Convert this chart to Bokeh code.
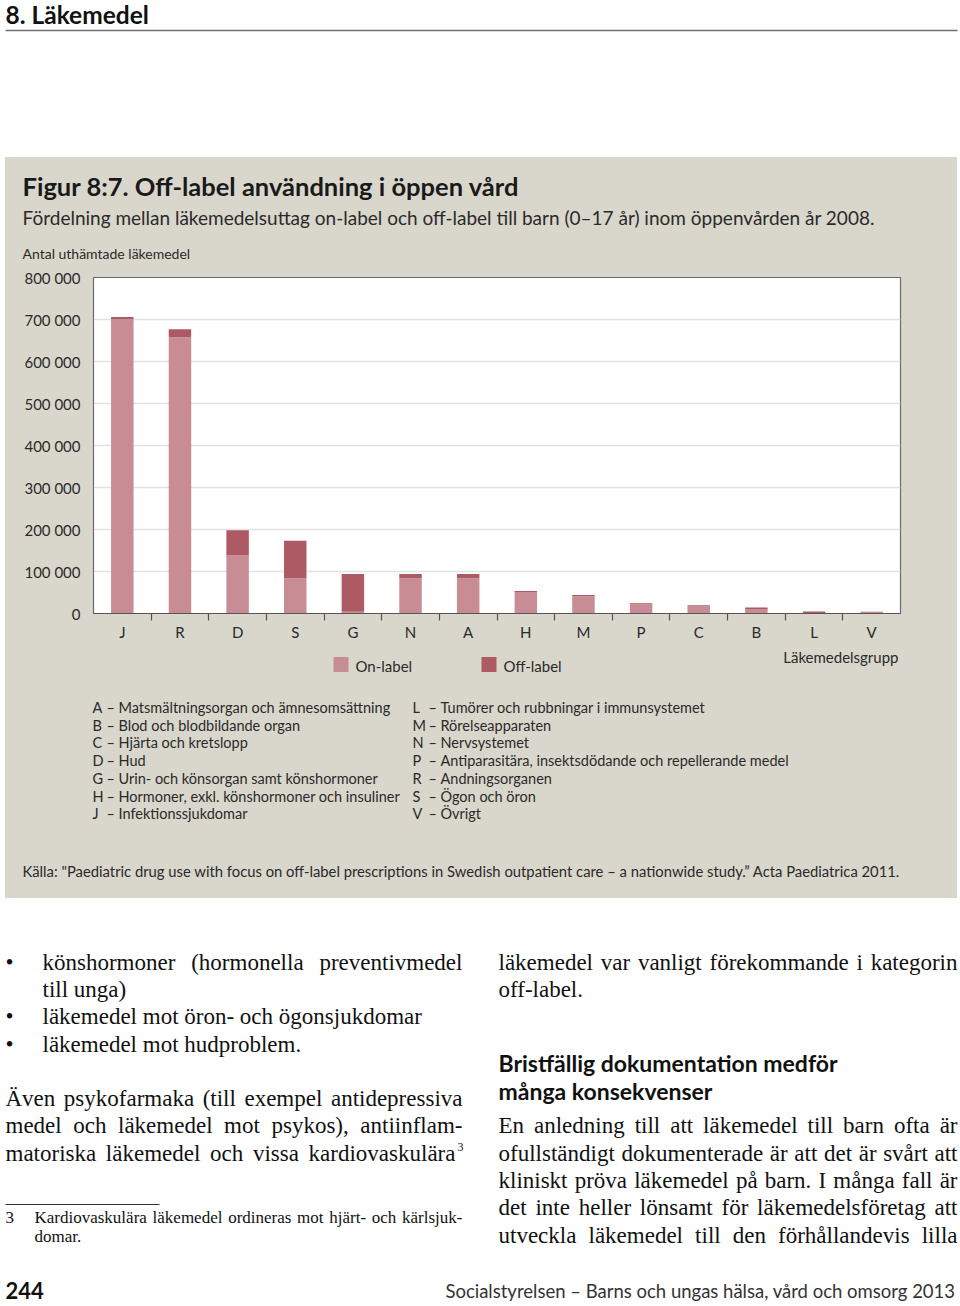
from bokeh.plotting import figure
from bokeh.models import Range1d, FixedTicker, ColumnDataSource, Spacer
from bokeh.layouts import column, row
from bokeh.embed import file_html
from bokeh.resources import INLINE
from bokeh.core.properties import value

# ---------------- data ----------------
categories = ["J", "R", "D", "S", "G", "N", "A", "H", "M", "P", "C", "B", "L", "V"]
on_label = [701000, 658000, 138000, 84000, 4000, 84000, 84000, 51000, 41000, 22000, 17000, 11000, 1000, 3500]
off_label = [5000, 19000, 60000, 89000, 90000, 10000, 10000, 2500, 3000, 2500, 2500, 3000, 4000, 500]
series_names = ["On-label", "Off-label"]
y_ticks = [0, 100000, 200000, 300000, 400000, 500000, 600000, 700000, 800000]
y_tick_labels = ["0", "100 000", "200 000", "300 000", "400 000", "500 000", "600 000", "700 000", "800 000"]

desc_left_codes = ["A", "B", "C", "D", "G", "H", "J"]
desc_left_texts = ["Matsmältningsorgan och ämnesomsättning", "Blod och blodbildande organ",
                   "Hjärta och kretslopp", "Hud", "Urin- och könsorgan samt könshormoner",
                   "Hormoner, exkl. könshormoner och insuliner", "Infektionssjukdomar"]
desc_right_codes = ["L", "M", "N", "P", "R", "S", "V"]
desc_right_texts = ["Tumörer och rubbningar i immunsystemet", "Rörelseapparaten", "Nervsystemet",
                    "Antiparasitära, insektsdödande och repellerande medel", "Andningsorganen",
                    "Ögon och öron", "Övrigt"]

chapter_title = "8. Läkemedel"
fig_title = "Figur 8:7. Off-label användning i öppen vård"
fig_subtitle = "Fördelning mellan läkemedelsuttag on-label och off-label till barn (0–17 år) inom öppenvården år 2008."
y_axis_title = "Antal uthämtade läkemedel"
x_axis_title = "Läkemedelsgrupp"
source_text = "Källa: \"Paediatric drug use with focus on off-label prescriptions in Swedish outpatient care – a nationwide study.” Acta Paediatrica 2011."

# ---------------- style ----------------
SANS = "Lato"
SERIF = "Liberation Serif"
GRAY = "#d9d7cc"
COLORS = ["#c88d94", "#ad5a64"]
TXT = "#2a2a2a"
PAGE_W = 960
GX0, GX1 = 5, 957          # gray panel horizontal extent (page px)
GW = GX1 - GX0


def text_fig(x0, x1, y0, y1, bg):
    f = figure(width=x1 - x0, height=y1 - y0, x_range=Range1d(x0, x1), y_range=Range1d(y1, y0),
               output_backend="svg", toolbar_location=None, min_border=0, title=None,
               background_fill_color=bg, border_fill_color=bg, outline_line_color=None,
               frame_align=False, styles={"background-color": bg})
    f.axis.visible = False
    f.grid.visible = False
    return f


def put(f, x, y, text, size, font=SANS, bold=False, align="left", color=TXT):
    if isinstance(text, str):
        x, y, text = [x], [y], [text]
    f.text(x=x, y=y, text=text, text_font=value(font), text_font_size=size,
           text_font_style="bold" if bold else "normal", text_align=align,
           text_baseline="middle", text_color=color)


# ---------------- header (page y 0-157) ----------------
head = text_fig(0, PAGE_W, 0, 157, "white")
put(head, 5, 14, chapter_title, "24.5px", bold=True, color="#111111")
head.segment(x0=[5], y0=[30], x1=[957], y1=[30], line_color="#6f6f6f", line_width=1.5)

# ---------------- gray panel top (157-267) ----------------
top = text_fig(GX0, GX1, 157, 267, GRAY)
put(top, 22, 185, fig_title, "25.5px", bold=True, color="#1a1a1a")
put(top, 22, 217, fig_subtitle, "19px")
put(top, 22, 253, y_axis_title, "14px")

# ---------------- chart (267-643), frame 277-614 / 93-900 ----------------
xs = [i + 0.5 for i in range(len(categories))]
src = ColumnDataSource(dict(x=xs, on=on_label, off=off_label))

p = figure(width=GW, height=643 - 267, x_range=Range1d(0, len(categories)), y_range=Range1d(0, 800000),
           output_backend="svg", toolbar_location=None, title=None, frame_align=False,
           min_border_left=93 - GX0, min_border_right=GX1 - 900, min_border_top=277 - 267,
           min_border_bottom=643 - 614,
           border_fill_color=GRAY, background_fill_color="white",
           outline_line_color="#6a6a6a", outline_line_width=1.2,
           styles={"background-color": GRAY})

rs = p.vbar_stack(["on", "off"], x="x", width=0.39, source=src, color=COLORS, line_color=None)

ytick = FixedTicker(ticks=y_ticks)
p.yaxis.ticker = ytick
p.ygrid.ticker = ytick
p.yaxis.major_label_overrides = {v: s for v, s in zip(y_ticks, y_tick_labels)}
p.yaxis.major_tick_line_color = None
p.yaxis.minor_tick_line_color = None
p.yaxis.major_tick_out = 0
p.yaxis.major_tick_in = 0
p.yaxis.major_label_standoff = 13
p.yaxis.axis_line_color = "#6a6a6a"
p.yaxis.major_label_text_font = SANS
p.yaxis.major_label_text_font_size = "15px"
p.yaxis.major_label_text_color = TXT

xtick = FixedTicker(ticks=xs, minor_ticks=list(range(1, len(categories))))
p.xaxis.ticker = xtick
p.xaxis.major_label_overrides = {x: c for x, c in zip(xs, categories)}
p.xaxis.major_tick_line_color = None
p.xaxis.major_tick_out = 0
p.xaxis.major_tick_in = 0
p.xaxis.minor_tick_out = 7
p.xaxis.minor_tick_in = 0
p.xaxis.minor_tick_line_color = "#555555"
p.xaxis.minor_tick_line_width = 1.2
p.xaxis.axis_line_color = "#555555"
p.xaxis.axis_line_width = 1.2
p.xaxis.major_label_standoff = 2
p.xaxis.major_label_text_font = SANS
p.xaxis.major_label_text_font_size = "15px"
p.xaxis.major_label_text_color = TXT

p.xgrid.visible = False
p.ygrid.grid_line_color = "#e2e2e2"
p.ygrid.grid_line_width = 1.5

# ---------------- gray panel bottom (643-898) ----------------
bot = text_fig(GX0, GX1, 643, 898, GRAY)
sw_x = [340.5, 488.5]
bot.rect(x=sw_x, y=[664, 664], width=15, height=15, width_units="screen", height_units="screen",
         fill_color=COLORS, line_color=None)
put(bot, [x + 14.5 for x in sw_x], [665, 665], series_names, "15px")
put(bot, 898, 656, x_axis_title, "15px", align="right")
rows = [707 + i * 17.7 for i in range(len(desc_left_codes))]
put(bot, [92] * len(rows), rows, desc_left_codes, "14.5px")
put(bot, [106] * len(rows), rows, ["–"] * len(rows), "14.5px")
put(bot, [118] * len(rows), rows, desc_left_texts, "14.5px")
rows = [707 + i * 17.7 for i in range(len(desc_right_codes))]
put(bot, [412] * len(rows), rows, desc_right_codes, "14.5px")
put(bot, [428] * len(rows), rows, ["–"] * len(rows), "14.5px")
put(bot, [440] * len(rows), rows, desc_right_texts, "14.5px")
put(bot, 22, 870, source_text, "14.8px")

# ---------------- body text (898-1306) ----------------
TW = {' ': 250, '!': 333, '"': 408, '(': 333, ')': 333, ',': 250, '-': 333, '.': 250, ':': 278, ';': 278,
      'A': 722, 'B': 667, 'C': 667, 'D': 722, 'E': 611, 'F': 556, 'G': 722, 'H': 722, 'I': 333, 'J': 389,
      'K': 722, 'L': 611, 'M': 889, 'N': 722, 'O': 722, 'P': 556, 'Q': 722, 'R': 667, 'S': 556, 'T': 611,
      'U': 722, 'V': 722, 'W': 944, 'X': 722, 'Y': 722, 'Z': 611, 'Ä': 722, 'Å': 722, 'Ö': 722,
      'a': 444, 'b': 500, 'c': 444, 'd': 500, 'e': 444, 'f': 333, 'g': 500, 'h': 500, 'i': 278, 'j': 278,
      'k': 500, 'l': 278, 'm': 778, 'n': 500, 'o': 500, 'p': 500, 'q': 500, 'r': 333, 's': 389, 't': 278,
      'u': 500, 'v': 500, 'w': 722, 'x': 500, 'y': 500, 'z': 444, 'ä': 444, 'å': 444, 'ö': 500}


def tw(s, size):
    return sum(TW.get(ch, 500) for ch in s) * size / 1000.0


body_lines = [
    (42, 462, 962, "könshormoner (hormonella preventivmedel"),
    (42, None, 989, "till unga)"),
    (42, None, 1016, "läkemedel mot öron- och ögonsjukdomar"),
    (42, None, 1044, "läkemedel mot hudproblem."),
    (5, 462, 1098, "Även psykofarmaka (till exempel antidepressiva"),
    (5, 462, 1125, "medel och läkemedel mot psykos), antiinflam-"),
    (5, 455, 1153, "matoriska läkemedel och vissa kardiovaskulära"),
    (498, 957, 962, "läkemedel var vanligt förekommande i kategorin"),
    (498, None, 989, "off-label."),
    (498, 957, 1125, "En anledning till att läkemedel till barn ofta är"),
    (498, 957, 1153, "ofullständigt dokumenterade är att det är svårt att"),
    (498, 957, 1180, "kliniskt pröva läkemedel på barn. I många fall är"),
    (498, 957, 1207, "det inte heller lönsamt för läkemedelsföretag att"),
    (498, 957, 1235, "utveckla läkemedel till den förhållandevis lilla"),
]
foot_lines = [
    (34, 462, 1217, "Kardiovaskulära läkemedel ordineras mot hjärt- och kärlsjuk-"),
    (34, None, 1236, "domar."),
]
bullet_rows = [962, 1016, 1044]
heading_lines = ["Bristfällig dokumentation medför", "många konsekvenser"]
page_number = "244"
running_footer = "Socialstyrelsen – Barns och ungas hälsa, vård och omsorg 2013"


def layout_words(lines, size):
    X, Y, T = [], [], []
    for x0, x1, y, s in lines:
        words = s.split(" ")
        if x1 is None or len(words) < 2:
            X.append(x0); Y.append(y); T.append(s)
            continue
        widths = [tw(w, size) for w in words]
        gap = (x1 - x0 - sum(widths)) / (len(words) - 1)
        cx = x0
        for w, wd in zip(words, widths):
            X.append(cx); Y.append(y); T.append(w)
            cx += wd + gap
    return X, Y, T


b = text_fig(0, PAGE_W, 898, 1306, "white")
INK = "#111111"
X, Y, T = layout_words(body_lines, 23)
put(b, X, Y, T, "23px", font=SERIF, color=INK)
put(b, 457, 1146, "3", "12px", font=SERIF, color=INK)
put(b, [5] * len(bullet_rows), bullet_rows, ["•"] * len(bullet_rows), "23px", font=SERIF, color=INK)
X, Y, T = layout_words(foot_lines, 17)
put(b, X + [5], Y + [1217], T + ["3"], "17px", font=SERIF, color=INK)
b.segment(x0=[5], y0=[1204], x1=[159], y1=[1204], line_color="#333333", line_width=1)
put(b, [498, 498], [1062, 1090], heading_lines, "23px", bold=True, color=INK)
put(b, 5, 1290, page_number, "22px", bold=True, color=INK)
put(b, 955, 1290, running_footer, "18.5px", align="right", color="#333333")


def gray_row(fig):
    return row(Spacer(width=GX0, styles={"background-color": "white"}), fig, spacing=0,
               styles={"background-color": GRAY})


gray_part = column(gray_row(top), gray_row(p), gray_row(bot), spacing=0,
                   styles={"background-color": GRAY})
page = column(head, gray_part, b, spacing=0)
open("out.html", "w").write(file_html(page, INLINE))
